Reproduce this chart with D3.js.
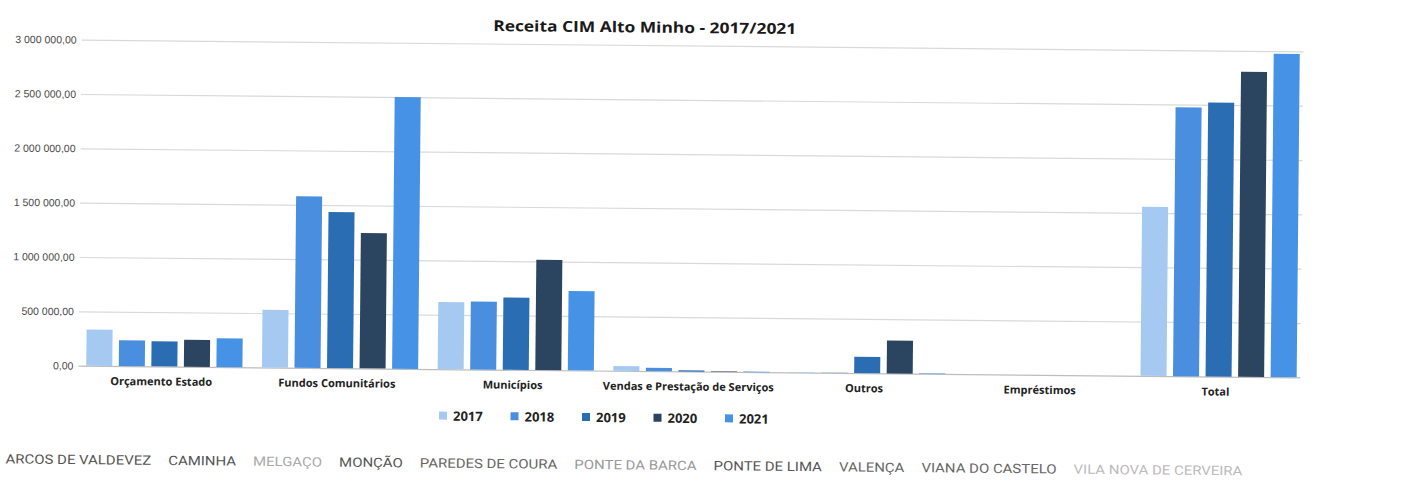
<!DOCTYPE html>
<html lang="pt">
  <head>
    <meta charset="UTF-8" />
    <title>Receita CIM Alto Minho - 2017/2021</title>
    <script src="https://d3js.org/d3.v7.min.js"></script>
    <style>
      html,
      body {
        margin: 0;
        padding: 0;
        background: #ffffff;
      }
      #chart {
        width: 1404px;
        height: 481px;
      }
      .title {
        font-family: "Open Sans", "Liberation Sans", sans-serif;
        font-weight: 700;
        fill: #1a1a1a;
      }
      .ytick text {
        font-family: "Liberation Sans", sans-serif;
        font-size: 10.5px;
        fill: #4a4a4a;
      }
      .cat-label {
        font-family: "Open Sans", "Liberation Sans", sans-serif;
        font-weight: 700;
        font-size: 11px;
        fill: #222;
      }
      .legend text {
        font-family: "Open Sans", "Liberation Sans", sans-serif;
        font-weight: 700;
        font-size: 13px;
        fill: #222;
      }
      .town {
        font-family: "Roboto", "Liberation Sans", sans-serif;
        font-size: 13px;
      }
    </style>
  </head>
  <body>
    <div id="chart"></div>

    <script>
      // categorias e séries (em euros)
      const categories = [
        "Orçamento Estado",
        "Fundos Comunitários",
        "Municípios",
        "Vendas e Prestação de Serviços",
        "Outros",
        "Empréstimos",
        "Total"
      ];
      const years = ["2017", "2018", "2019", "2020", "2021"];

      const values2017 = [333000, 530000, 617000, 45000, 4000, 0, 1555000];
      const values2018 = [238000, 1578000, 626000, 30000, 3000, 0, 2475000];
      const values2019 = [230000, 1437000, 664000, 10000, 151000, 0, 2521000];
      const values2020 = [247000, 1245000, 1015000, 4000, 302000, 0, 2807000];
      const values2021 = [265000, 2500000, 729000, 5000, 5000, 0, 2975000];

      const yTicks = [0, 500000, 1000000, 1500000, 2000000, 2500000, 3000000];

      const towns = [
        "ARCOS DE VALDEVEZ",
        "CAMINHA",
        "MELGAÇO",
        "MONÇÃO",
        "PAREDES DE COURA",
        "PONTE DA BARCA",
        "PONTE DE LIMA",
        "VALENÇA",
        "VIANA DO CASTELO",
        "VILA NOVA DE CERVEIRA"
      ];
      const townShade = ["#555", "#555", "#aaa", "#555", "#666", "#999", "#555", "#666", "#666", "#bbb"];

      const COLORS = {
        2017: "#a6c9f2",
        2018: "#4a8ee0",
        2019: "#2a6db3",
        2020: "#2b4560",
        2021: "#4592e6"
      };

      const series = {
        2017: values2017,
        2018: values2018,
        2019: values2019,
        2020: values2020,
        2021: values2021
      };

      const data = categories.map((c, i) => ({
        cat: c,
        vals: years.map((y) => ({ year: y, value: series[y][i] }))
      }));

      const W = 1404;
      const H = 481;

      const svg = d3
        .select("#chart")
        .append("svg")
        .attr("width", W)
        .attr("height", H);

      // the scanned page is slightly tilted
      const page = svg.append("g").attr("transform", "rotate(0.55, 690, 210)");

      const x0 = d3.scaleBand().domain(categories).range([78, 1308]);
      const x1 = d3
        .scaleBand()
        .domain(years)
        .range([0, x0.bandwidth()])
        .paddingInner(0.2)
        .paddingOuter(0.3);
      const y = d3.scaleLinear().domain([0, 3000000]).range([371.5, 45.5]);

      const fmt = (v) => d3.format(",.2f")(v).replace(/,/g, " ").replace(".", ",");

      // gridlines + labels
      const yAxis = page
        .append("g")
        .attr("class", "ytick")
        .attr("transform", "translate(80,0)")
        .call(
          d3
            .axisLeft(y)
            .tickValues(yTicks)
            .tickSize(-1222)
            .tickPadding(5)
            .tickFormat(fmt)
        );
      yAxis.select(".domain").remove();
      yAxis
        .selectAll(".tick line")
        .attr("stroke", (d) => (d === 0 ? "#bdbdbd" : "#d9d9d9"))
        .attr("stroke-width", 1.2);

      // title
      page
        .append("text")
        .attr("class", "title")
        .attr("x", 643)
        .attr("y", 33)
        .attr("text-anchor", "middle")
        .attr("font-size", 15)
        .attr("textLength", 303)
        .attr("lengthAdjust", "spacingAndGlyphs")
        .text("Receita CIM Alto Minho - 2017/2021");

      // bars
      const groups = page
        .selectAll(".grp")
        .data(data)
        .enter()
        .append("g")
        .attr("class", "grp")
        .attr("transform", (d) => `translate(${x0(d.cat)},0)`);

      groups
        .selectAll("rect")
        .data((d) => d.vals)
        .enter()
        .append("rect")
        .attr("x", (d) => x1(d.year))
        .attr("width", x1.bandwidth())
        .attr("y", (d) => y(d.value))
        .attr("height", (d) => y(0) - y(d.value))
        .attr("fill", (d) => COLORS[d.year]);

      // category labels
      page
        .selectAll(".cat-label")
        .data(categories)
        .enter()
        .append("text")
        .attr("class", "cat-label")
        .attr("x", (d) => x0(d) + x0.bandwidth() / 2 - 3)
        .attr("y", y(0) + 19)
        .attr("text-anchor", "middle")
        .text((d) => d);

      // legend
      const legend = page
        .append("g")
        .attr("class", "legend")
        .attr("transform", "translate(441,413)");

      const item = legend
        .selectAll("g")
        .data(years)
        .enter()
        .append("g")
        .attr("transform", (d, i) => `translate(${i * 71.5},0)`);

      item
        .append("rect")
        .attr("width", 8)
        .attr("height", 8)
        .attr("y", 1)
        .attr("fill", (d) => COLORS[d]);

      item
        .append("text")
        .attr("x", 14)
        .attr("y", 10)
        .text((d) => d);

      // municipalities row under the chart
      const row = page.append("g").attr("transform", "translate(8,470)");
      const townText = row
        .selectAll("text")
        .data(towns)
        .enter()
        .append("text")
        .attr("class", "town")
        .attr("fill", (d, i) => townShade[i])
        .text((d) => d);

      const widths = townText.nodes().map((n) => n.getComputedTextLength());
      const gap = 17;
      const target = 1237;
      const sx = (target - gap * (towns.length - 1)) / d3.sum(widths);
      let cursor = 0;
      townText.attr("transform", (d, i) => {
        const t = `translate(${cursor},0) scale(${sx},1)`;
        cursor += widths[i] * sx + gap;
        return t;
      });
    </script>
  </body>
</html>
